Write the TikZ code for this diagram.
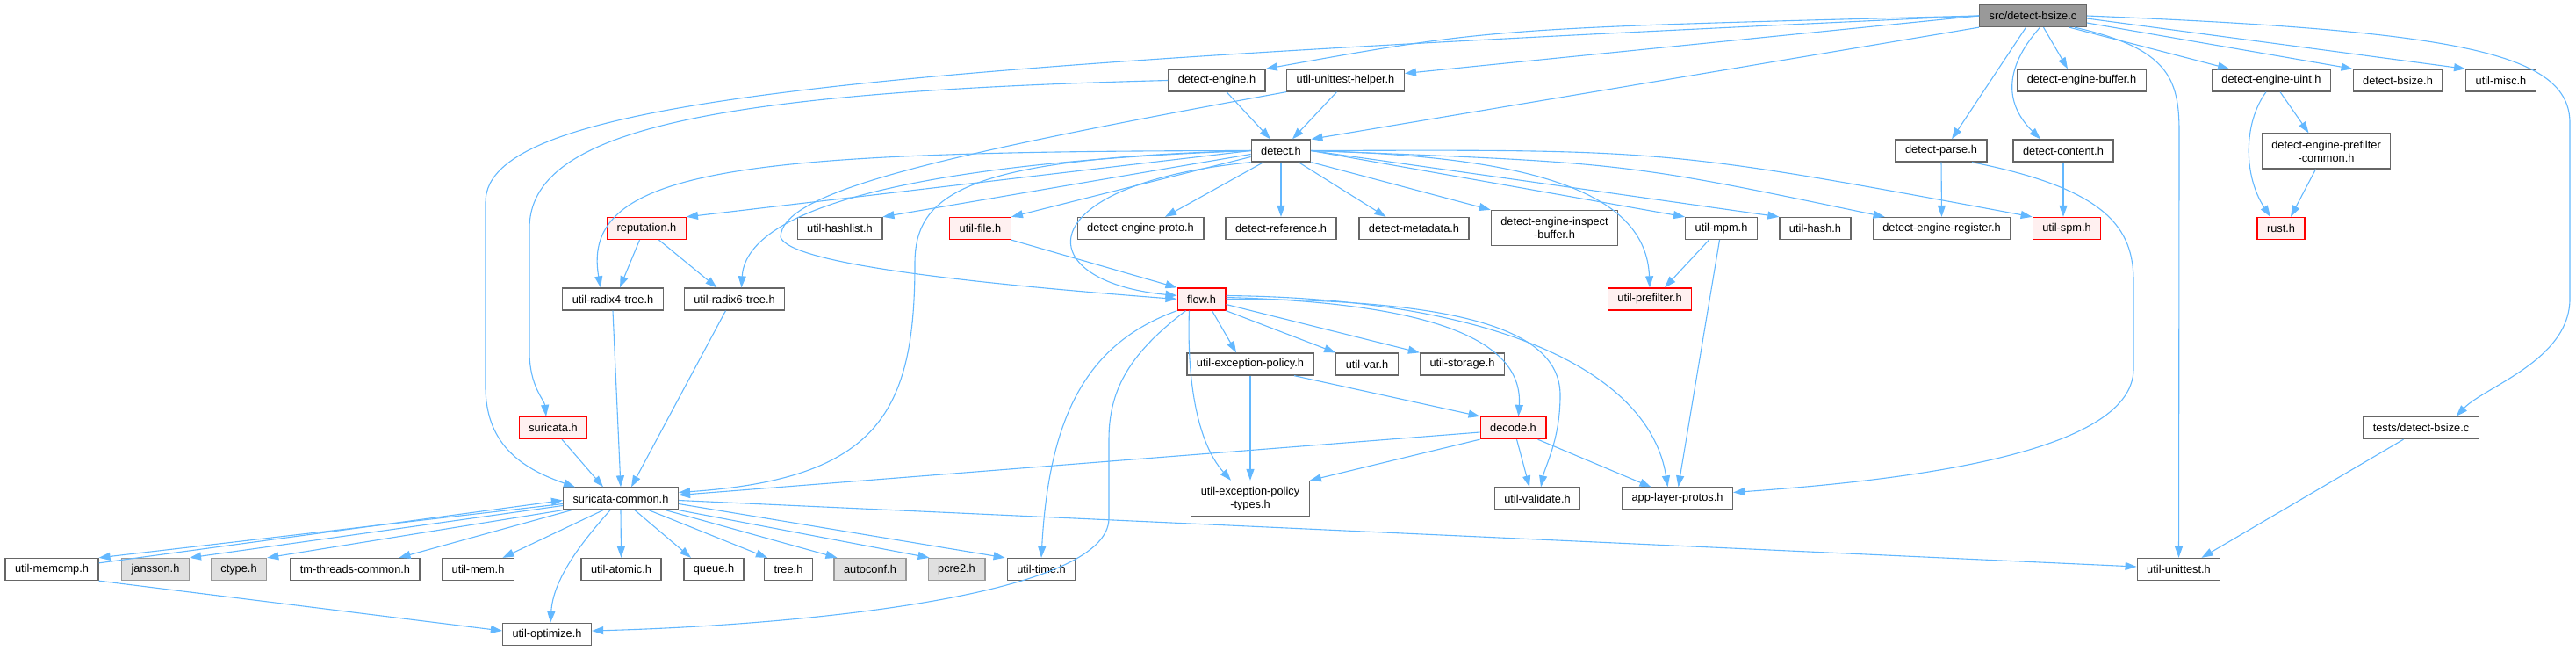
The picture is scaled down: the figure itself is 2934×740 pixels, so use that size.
\documentclass[tikz,border=0pt]{standalone}
\usepackage{fontspec}
\setmainfont{Liberation Sans}
\usetikzlibrary{arrows.meta}
\definecolor{edgeblue}{HTML}{63B8FF}
\definecolor{redfill}{HTML}{FFF0F0}
\definecolor{undocfill}{HTML}{E0E0E0}
\definecolor{undocline}{HTML}{999999}
\definecolor{rootfill}{HTML}{999999}
\definecolor{boxline}{HTML}{666666}
\tikzset{
  hdr/.style={draw=boxline, fill=white, line width=1.3pt, minimum height=25pt, inner xsep=11pt, inner ysep=3pt, align=center, font=\fontsize{12.8}{15}\selectfont},
  hdrred/.style={hdr, draw=red, fill=redfill},
  hdrgray/.style={hdr, draw=undocline, fill=undocfill},
  hdrroot/.style={hdr, fill=rootfill},
  twoline/.style={minimum height=40pt},
  inc/.style={draw=edgeblue, line width=1.1pt, ->, >={Triangle[length=13pt,width=9pt]}}
}
\begin{document}
\begin{tikzpicture}[x=1pt,y=-1pt]
    \useasboundingbox (0,0) rectangle (2934,740);

    \node[hdrroot] (src) at (2315.5,18) {src/detect-bsize.c};

    \node[hdr] (deng) at (1386,91.5) {detect-engine.h};
    \node[hdr] (uuh) at (1532.5,91.5) {util-unittest-helper.h};
    \node[hdr] (debuf) at (2371,91.5) {detect-engine-buffer.h};
    \node[hdr] (deuint) at (2587,91.5) {detect-engine-uint.h};
    \node[hdr] (dbsize) at (2731,91.5) {detect-bsize.h};
    \node[hdr] (umisc) at (2848.5,91.5) {util-misc.h};

    \node[hdr] (detect) at (1459,171.5) {detect.h};
    \node[hdr] (dparse) at (2211,171.5) {detect-parse.h};
    \node[hdr] (dcontent) at (2350,171.5) {detect-content.h};
    \node[hdr,twoline] (prefc) at (2649.5,172) {detect-engine-prefilter\\-common.h};

    \node[hdrred] (reput) at (736.5,260) {reputation.h};
    \node[hdr] (hashlist) at (956.5,260) {util-hashlist.h};
    \node[hdrred] (ufile) at (1116.5,260) {util-file.h};
    \node[hdr] (dproto) at (1299,260) {detect-engine-proto.h};
    \node[hdr] (dref) at (1459,260) {detect-reference.h};
    \node[hdr] (dmeta) at (1610.5,260) {detect-metadata.h};
    \node[hdr,twoline] (dinsp) at (1770.5,259.5) {detect-engine-inspect\\-buffer.h};
    \node[hdr] (mpm) at (1960.5,260) {util-mpm.h};
    \node[hdr] (uhash) at (2067.5,260) {util-hash.h};
    \node[hdr] (dreg) at (2211.5,260) {detect-engine-register.h};
    \node[hdrred] (spm) at (2354,260) {util-spm.h};
    \node[hdrred] (rust) at (2598,260) {rust.h};

    \node[hdr] (radix4) at (698,340.5) {util-radix4-tree.h};
    \node[hdr] (radix6) at (836.5,340.5) {util-radix6-tree.h};
    \node[hdrred] (flow) at (1368.5,340.5) {flow.h};
    \node[hdrred] (upref) at (1879,340.5) {util-prefilter.h};

    \node[hdr] (uexc) at (1424,414.5) {util-exception-policy.h};
    \node[hdr] (uvar) at (1557,414.5) {util-var.h};
    \node[hdr] (ustor) at (1665.5,414.5) {util-storage.h};

    \node[hdrred] (suricata) at (630,487) {suricata.h};
    \node[hdrred] (decode) at (1723.5,487) {decode.h};
    \node[hdr] (tests) at (2757.5,487) {tests/detect-bsize.c};

    \node[hdr] (scommon) at (707,567.5) {suricata-common.h};
    \node[hdr,twoline] (uexct) at (1424,567.5) {util-exception-policy\\-types.h};
    \node[hdr] (uvalid) at (1751,567.5) {util-validate.h};
    \node[hdr] (alp) at (1910.5,567.5) {app-layer-protos.h};

    \node[hdr] (memcmp) at (59,648) {util-memcmp.h};
    \node[hdrgray] (jansson) at (177,648) {jansson.h};
    \node[hdrgray] (ctype) at (272,648) {ctype.h};
    \node[hdr] (tmthr) at (404.5,648) {tm-threads-common.h};
    \node[hdr] (umem) at (544.5,648) {util-mem.h};
    \node[hdr] (uatomic) at (707.5,648) {util-atomic.h};
    \node[hdr] (queue) at (813,648) {queue.h};
    \node[hdr] (tree) at (898,648) {tree.h};
    \node[hdrgray] (autoconf) at (991,648) {autoconf.h};
    \node[hdrgray] (pcre2) at (1089.5,648) {pcre2.h};
    \node[hdr] (utime) at (1186,648) {util-time.h};
    \node[hdr] (uunit) at (2481.5,648) {util-unittest.h};

    \node[hdr] (uopt) at (623,722) {util-optimize.h};

    \begin{scope}[inc]
    \draw (src.west) .. controls (1000,75) and (553,110) .. (553,230) -- (553,440) .. controls (553,510) and (600,535) .. ([xshift=-52pt]scommon.north);
    \draw (src.west) .. controls (1700,32) .. (deng.north east);
    \draw (src.west) -- ([yshift=8pt]uuh.east);
    \draw (src.south west) -- (detect.north east);
    \draw ([xshift=-8pt]src.south) -- ([xshift=12pt]dparse.north);
    \draw ([xshift=8pt]src.south) .. controls (2280,80) and (2285,120) .. ([xshift=-26pt]dcontent.north);
    \draw ([xshift=12pt]src.south) -- ([xshift=-16pt]debuf.north);
    \draw ([xshift=-20pt]src.south east) -- ([xshift=-48pt]deuint.north);
    \draw ([yshift=-8pt]src.east) -- (dbsize.north west);
    \draw ([yshift=-3pt]src.east) -- (umisc.north west);
    \draw ([xshift=-14pt]src.south east) .. controls (2470,55) and (2482,90) .. (2482,150) -- (uunit.north);
    \draw (src.east) .. controls (2800,35) and (2927,60) .. (2927,140) -- (2927,340) .. controls (2927,410) and (2830,440) .. ([xshift=40pt]tests.north);

    \draw ([xshift=11pt]deng.south) -- ([xshift=-12pt]detect.north);
    \draw (deng.west) .. controls (800,105) and (603,150) .. (603,260) -- (603,400) .. controls (603,440) and (620,455) .. ([xshift=-8pt]suricata.north);
    \draw ([xshift=-10pt]uuh.south) -- ([xshift=13pt]detect.north);
    \draw (uuh.south west) .. controls (1050,180) and (890,220) .. (889,270) .. controls (900,300) and (1100,322) .. (flow.west);

    \draw (detect.west) -- (reput.north east);
    \draw (detect.west) .. controls (850,172) and (660,190) .. ([xshift=-14pt]radix4.north);
    \draw (detect.west) .. controls (1050,185) and (850,235) .. ([xshift=8pt]radix6.north);
    \draw (detect.west) .. controls (1100,180) and (1042,220) .. (1042,300) .. controls (1042,470) and (1000,545) .. ([yshift=7pt]scommon.east);
    \draw ([yshift=-4pt]detect.west) -- (hashlist.north east);
    \draw ([yshift=-7pt]detect.west) -- (ufile.north east);
    \draw (detect.south west) .. controls (1170,210) and (1170,320) .. ([yshift=4pt]flow.west);
    \draw ([xshift=-20pt]detect.south) -- ([xshift=28pt]dproto.north);
    \draw (detect.south) -- (dref.north);
    \draw ([xshift=20pt]detect.south) -- ([xshift=-32pt]dmeta.north);
    \draw (detect.south east) -- (dinsp.north west);
    \draw (detect.east) .. controls (1750,178) and (1875,220) .. (upref.north);
    \draw (detect.east) -- (mpm.north west);
    \draw (detect.east) -- (uhash.north west);
    \draw (detect.east) .. controls (1850,185) .. ([xshift=14pt]dreg.north west);
    \draw (detect.east) .. controls (1900,170) .. (spm.north west);

    \draw ([xshift=-8pt]reput.south) -- ([xshift=8pt]radix4.north);
    \draw ([xshift=14pt]reput.south) -- ([xshift=-20pt]radix6.north);
    \draw (radix4.south) -- (scommon.north);
    \draw ([xshift=-10pt]radix6.south) -- ([xshift=12pt]scommon.north);
    \draw ([xshift=10pt]suricata.south) -- ([xshift=-20pt]scommon.north);
    \draw (ufile.south east) -- (flow.north west);

    \draw ([xshift=12pt]flow.south) -- ([xshift=-16pt]uexc.north);
    \draw (flow.south east) -- (uvar.north west);
    \draw ([yshift=-6pt]flow.east) -- (ustor.north west);
    \draw ([yshift=2pt]flow.east) .. controls (1640,345) and (1735,390) .. ([xshift=6pt]decode.north);
    \draw (flow.east) .. controls (1680,340) and (1777,380) .. (1777,450) .. controls (1777,500) and (1760,530) .. ([xshift=4pt]uvalid.north);
    \draw ([yshift=4pt]flow.east) .. controls (1720,340) and (1880,430) .. ([xshift=-11pt]alp.north);
    \draw ([xshift=14pt]flow.south west) .. controls (1352,420) and (1360,500) .. ([xshift=-22pt]uexct.north);
    \draw (flow.south west) .. controls (1240,390) and (1195,470) .. (utime.north);
    \draw ([xshift=10pt]flow.south west) .. controls (1290,400) and (1263,440) .. (1263,500) -- (1263,590) .. controls (1263,680) and (900,712) .. ([yshift=4pt]uopt.east);

    \draw (uexc.south) -- (uexct.north);
    \draw ([xshift=50pt]uexc.south) -- (decode.north west);
    \draw ([yshift=-5pt]decode.west) -- ([yshift=4pt]scommon.east);
    \draw (decode.south west) -- (uexct.north east);
    \draw ([xshift=4pt]decode.south) -- ([xshift=-9pt]uvalid.north);
    \draw ([xshift=28pt]decode.south) -- ([xshift=-30pt]alp.north);
    \draw ([xshift=-14pt]mpm.south) -- ([xshift=17pt]upref.north);
    \draw ([xshift=-2pt]mpm.south) -- ([xshift=1pt]alp.north);

    \draw (dparse.south) -- (dreg.north);
    \draw ([xshift=35pt]dparse.south) .. controls (2400,215) and (2430,260) .. (2430,320) -- (2430,420) .. controls (2430,520) and (2150,548) .. ([yshift=7pt]alp.east);
    \draw (dcontent.south) -- ([xshift=-4pt]spm.north);
    \draw ([xshift=-6pt]deuint.south) .. controls (2555,140) and (2555,200) .. ([xshift=-12pt]rust.north);
    \draw ([xshift=10pt]deuint.south) -- ([xshift=-20pt]prefc.north);
    \draw ([xshift=-12pt]prefc.south) -- ([xshift=11pt]rust.north);
    \draw ([xshift=-20pt]tests.south) -- ([xshift=26pt]uunit.north);

    \draw ([yshift=-6pt]scommon.west) -- (memcmp.north east);
    \draw ([yshift=-6pt]memcmp.north east) -- ([yshift=-2pt]scommon.west);
    \draw ([yshift=-8pt]scommon.west) -- (jansson.north east);
    \draw (scommon.south west) -- (ctype.north east);
    \draw ([xshift=10pt]scommon.south west) -- ([xshift=50pt]tmthr.north);
    \draw ([xshift=-20pt]scommon.south) -- ([xshift=28pt]umem.north);
    \draw (scommon.south) -- (uatomic.north);
    \draw ([xshift=16pt]scommon.south) -- ([xshift=-26pt]queue.north);
    \draw ([xshift=32pt]scommon.south) -- ([xshift=4pt]tree.north west);
    \draw ([xshift=-15pt]scommon.south east) -- ([xshift=4pt]autoconf.north west);
    \draw (scommon.south east) -- ([xshift=2pt]pcre2.north west);
    \draw ([yshift=-6pt]scommon.east) -- ([xshift=-2pt]utime.north west);
    \draw ([yshift=-2pt]scommon.east) -- ([yshift=3pt]uunit.west);
    \draw ([xshift=-12pt]scommon.south) .. controls (660,620) and (630,660) .. ([xshift=4pt]uopt.north);
    \draw (memcmp.south east) -- ([yshift=4pt]uopt.west);
    \end{scope}
\end{tikzpicture}
\end{document}
